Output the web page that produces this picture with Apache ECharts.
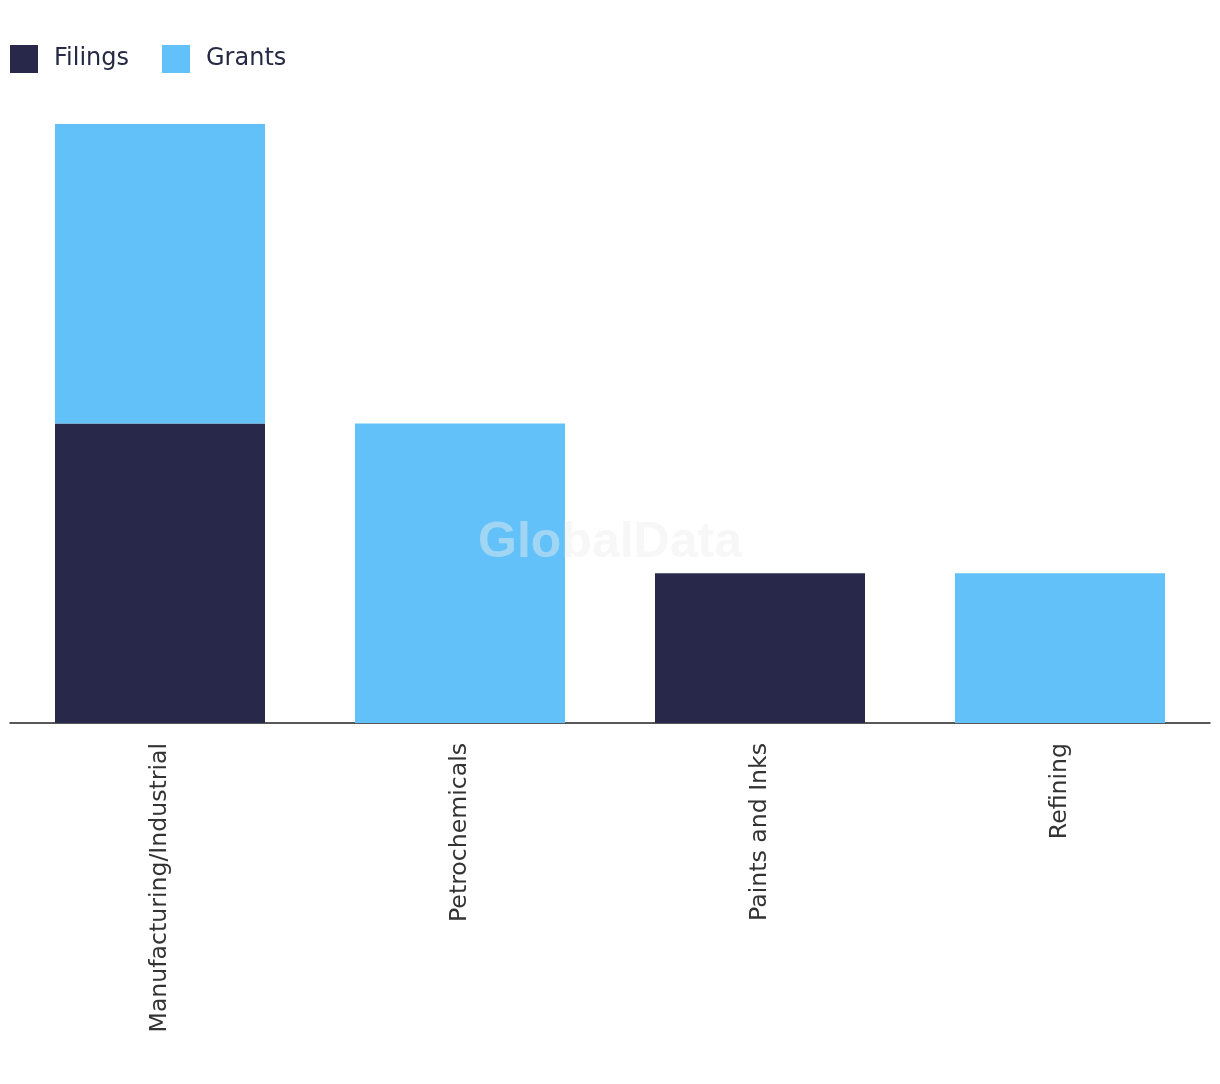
<!DOCTYPE html>
<html>
<head>
<meta charset="utf-8">
<script src="https://cdn.jsdelivr.net/npm/echarts@6/dist/echarts.min.js"></script>
<style>html,body{margin:0;padding:0;background:#fff;}#chart{width:1220px;height:1084px;}</style>
</head>
<body>
<div id="chart"></div>
<script>
const categories = ['Manufacturing/Industrial', 'Petrochemicals', 'Paints and Inks', 'Refining'];
const filings = [2, 0, 1, 0];
const grants = [2, 2, 0, 1];

const chart = echarts.init(document.getElementById('chart'));
chart.setOption({
  backgroundColor: '#ffffff',
  animation: false,
  legend: {
    left: 10, top: 45, padding: 0,
    itemWidth: 28, itemHeight: 28, itemGap: 33,
    icon: 'rect',
    textStyle: { fontSize: 24, color: '#262a44', fontFamily: '"DejaVu Sans", sans-serif', padding: [0, 0, 0, 11] },
    data: ['Filings', 'Grants']
  },
  grid: { left: 10, right: 10, top: 124, bottom: 361, containLabel: false },
  xAxis: {
    type: 'category',
    data: categories,
    axisLine: { lineStyle: { color: '#222', width: 1.5 } },
    axisTick: { show: false },
    axisLabel: { rotate: 90, fontSize: 23.6, color: '#333', margin: 20, fontFamily: '"DejaVu Sans", sans-serif' }
  },
  yAxis: { type: 'value', min: 0, max: 4, show: false, splitLine: { show: false } },
  series: [
    { name: 'Filings', type: 'bar', stack: 'a', data: filings, barWidth: '70%', itemStyle: { color: '#27284a' } },
    { name: 'Grants', type: 'bar', stack: 'a', data: grants, barWidth: '70%', itemStyle: { color: '#62c1f9' } }
  ],
  graphic: [{
    type: 'text', x: 610, y: 543, z: 100,
    style: { text: 'GlobalData', font: 'bold 50px "Liberation Sans", Arial, sans-serif', fill: 'rgba(238,238,238,0.45)', align: 'center', verticalAlign: 'middle' }
  }]
});
</script>
</body>
</html>
